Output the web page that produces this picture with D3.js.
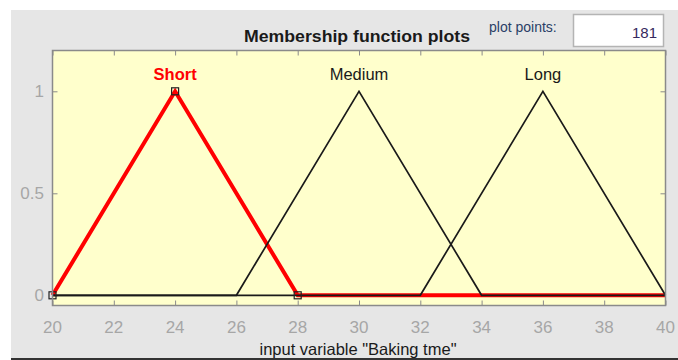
<!DOCTYPE html>
<html>
<head>
<meta charset="utf-8">
<script src="https://cdn.jsdelivr.net/npm/d3@7"></script>
<style>
  html, body { margin: 0; padding: 0; background: #fff; }
  svg { display: block; font-family: "Liberation Sans", Arial, sans-serif; }
</style>
</head>
<body>
<svg id="chart"></svg>
<script>
// membership functions of input variable "Baking tme"
const mfNames = ["Short", "Medium", "Long"];
const mfParams = [[20, 24, 28], [26, 30, 34], [32, 36, 40]];
const selectedMf = "Short";
const xTicks = [20, 22, 24, 26, 28, 30, 32, 34, 36, 38, 40];
const yTicks = [0, 0.5, 1];
const yTickLabels = ["0", "0.5", "1"];
const plotPoints = "181";

const W = 678, H = 360;
const box = { left: 52.5, right: 665.5, top: 50.5, bottom: 305.5 };

const svg = d3.select("#chart").attr("width", W).attr("height", H);

// gray figure panel
svg.append("rect").attr("x", 11).attr("y", 10).attr("width", W - 11).attr("height", H - 10)
  .attr("fill", "#e6e6e6");

const x = d3.scaleLinear().domain([20, 40]).range([box.left, box.right]);
const y = d3.scaleLinear().domain([-0.05, 1.2]).range([box.bottom, box.top]);

// axes background
svg.append("rect")
  .attr("x", box.left).attr("y", box.top)
  .attr("width", box.right - box.left).attr("height", box.bottom - box.top)
  .attr("fill", "#ffffcc");

// ticks (inside, on all four sides)
const tickCol = "#8a8a8a";
const xb = svg.append("g").attr("transform", `translate(0,${box.bottom})`)
  .call(d3.axisBottom(x).tickValues(xTicks).tickSize(-5).tickFormat(""));
const xt = svg.append("g").attr("transform", `translate(0,${box.top})`)
  .call(d3.axisTop(x).tickValues(xTicks).tickSize(-5).tickFormat(""));
const yl = svg.append("g").attr("transform", `translate(${box.left},0)`)
  .call(d3.axisLeft(y).tickValues(yTicks).tickSize(-5).tickFormat(""));
const yr = svg.append("g").attr("transform", `translate(${box.right},0)`)
  .call(d3.axisRight(y).tickValues(yTicks).tickSize(-5).tickFormat(""));
[xb, xt, yl, yr].forEach(g => {
  g.select(".domain").remove();
  g.selectAll("line").attr("stroke", tickCol);
});

// tick labels
svg.append("g").selectAll("text").data(xTicks).join("text")
  .attr("x", d => x(d)).attr("y", 333)
  .attr("text-anchor", "middle").attr("font-size", 17).attr("fill", "#a6a6a6")
  .text(d => d);
svg.append("g").selectAll("text").data(yTicks).join("text")
  .attr("x", 44).attr("y", d => y(d) + 6)
  .attr("text-anchor", "end").attr("font-size", 17).attr("fill", "#a6a6a6")
  .text((d, i) => yTickLabels[i]);

// membership function curves: unselected on top of selected
const line = d3.line().x(d => x(d[0])).y(d => y(d[1]));
const mfPoints = p => [[20, 0], [p[0], 0], [p[1], 1], [p[2], 0], [40, 0]];
const order = d3.range(mfNames.length)
  .sort((a, b) => (mfNames[b] === selectedMf) - (mfNames[a] === selectedMf));

svg.append("g").selectAll("path").data(order).join("path")
  .attr("d", i => line(mfPoints(mfParams[i])))
  .attr("fill", "none")
  .attr("stroke", i => mfNames[i] === selectedMf ? "#ff0000" : "#1a1a1a")
  .attr("stroke-width", i => mfNames[i] === selectedMf ? 4 : 1.7)
  .attr("stroke-linejoin", "miter");

// vertex markers of the selected function
const sel = mfParams[mfNames.indexOf(selectedMf)];
svg.append("g").selectAll("rect").data([[sel[0], 0], [sel[1], 1], [sel[2], 0]]).join("rect")
  .attr("x", d => x(d[0]) - 3.5).attr("y", d => y(d[1]) - 3.5)
  .attr("width", 7).attr("height", 7)
  .attr("fill", "none").attr("stroke", "#222").attr("stroke-width", 1.2);

// curve names
svg.append("g").selectAll("text").data(mfNames).join("text")
  .attr("x", (d, i) => x(mfParams[i][1])).attr("y", 80)
  .attr("text-anchor", "middle").attr("font-size", 16.5)
  .attr("font-weight", d => d === selectedMf ? "bold" : "normal")
  .attr("fill", d => d === selectedMf ? "#ff0000" : "#1a1a1a")
  .text(d => d);

// axes border
svg.append("rect")
  .attr("x", box.left).attr("y", box.top)
  .attr("width", box.right - box.left).attr("height", box.bottom - box.top)
  .attr("fill", "none").attr("stroke", tickCol).attr("stroke-width", 1.5);

// title and x label
svg.append("text").attr("x", 357).attr("y", 42).attr("text-anchor", "middle")
  .attr("font-size", 17).attr("font-weight", "bold").attr("fill", "#1a1a1a")
  .attr("textLength", 226).attr("lengthAdjust", "spacingAndGlyphs")
  .text("Membership function plots");
svg.append("text").attr("x", 358).attr("y", 355).attr("text-anchor", "middle")
  .attr("font-size", 16.5).attr("fill", "#1a1a1a")
  .text('input variable "Baking tme"');

// plot points control
svg.append("text").attr("x", 489).attr("y", 32).attr("font-size", 14).attr("fill", "#2a3f66")
  .text("plot points:");
svg.append("rect").attr("x", 573.5).attr("y", 14.5).attr("width", 90).attr("height", 32)
  .attr("fill", "#fff").attr("stroke", "#b4b4b4").attr("stroke-width", 1.5);
svg.append("text").attr("x", 657).attr("y", 38).attr("text-anchor", "end")
  .attr("font-size", 15).attr("fill", "#35295e").text(plotPoints);

// dark bottom edge
svg.append("rect").attr("x", 11).attr("y", 358).attr("width", W - 11).attr("height", 2)
  .attr("fill", "#333");
</script>
</body>
</html>
